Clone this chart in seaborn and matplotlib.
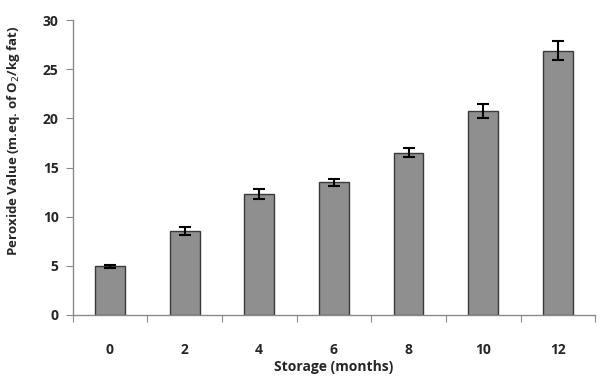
import matplotlib
matplotlib.use("Agg")
import matplotlib.pyplot as plt
import seaborn as sns
import pandas as pd
import numpy as np

months = ["0", "2", "4", "6", "8", "10", "12"]
peroxide = [4.97, 8.55, 12.33, 13.5, 16.5, 20.72, 26.9]
errors = [0.15, 0.45, 0.5, 0.33, 0.45, 0.72, 0.95]

sns.set_style("white")
plt.rcParams['font.family'] = ['Open Sans', 'DejaVu Sans']

df = pd.DataFrame({"month": months, "pv": peroxide})

fig = plt.figure(figsize=(6, 3.78), dpi=100)
ax = fig.add_axes([0.121, 0.1667, 0.871, 0.780])

sns.barplot(data=df, x="month", y="pv", ax=ax, width=0.4, color="#8f8f8f",
            saturation=1, edgecolor="#3a3a3a", linewidth=1.0, errorbar=None)
ax.errorbar(np.arange(len(months)), peroxide, yerr=errors, fmt="none",
            ecolor="black", elinewidth=1.5, capsize=4, capthick=1.5)

ax.set_ylim(0, 30)
ax.set_yticks([0, 5, 10, 15, 20, 25, 30])
ax.set_xlim(-0.5, len(months) - 0.5)
ax.set_xticks(np.arange(-0.5, len(months), 1.0))
ax.set_xticklabels([])
ax.set_xticks(np.arange(len(months)), minor=True)
ax.set_xticklabels(months, minor=True)

for s in ["top", "right"]:
    ax.spines[s].set_visible(False)
for s in ["left", "bottom"]:
    ax.spines[s].set_color("#8a8a8a")
    ax.spines[s].set_linewidth(1.0)

ax.tick_params(axis="y", which="major", direction="out", length=5, color="#8a8a8a",
               left=True, labelsize=10, pad=5)
ax.tick_params(axis="x", which="major", direction="out", length=5, color="#8a8a8a",
               bottom=True)
ax.tick_params(axis="x", which="minor", length=0, labelsize=10, pad=20)
for lbl in ax.get_yticklabels() + ax.get_xticklabels(minor=True):
    lbl.set_fontweight("bold")

ax.set_xlabel("Storage (months)", fontsize=10, fontweight="bold", labelpad=2)
ax.set_ylabel("Peroxide Value (m.eq. of O$_2$/kg fat)", fontsize=9.5, fontweight="bold")
ax.yaxis.set_label_coords(-0.096, 0.59)
ax.grid(False)

fig.savefig("out.png", dpi=100)
